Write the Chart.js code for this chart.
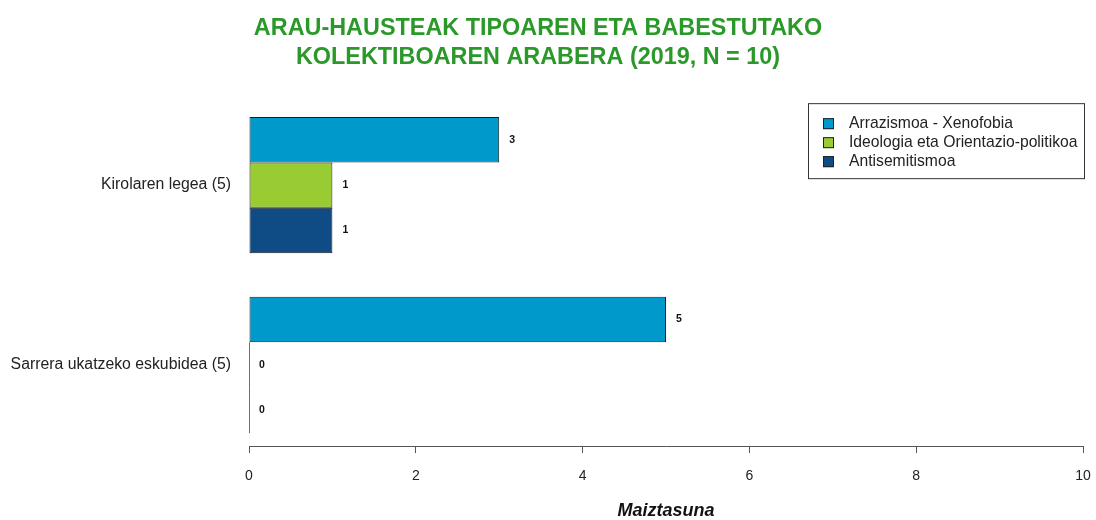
<!DOCTYPE html>
<html>
<head>
<meta charset="utf-8">
<title>Arau-hausteak tipoaren eta babestutako kolektiboaren arabera</title>
<script src="https://cdn.jsdelivr.net/npm/chart.js@4/dist/chart.umd.min.js"></script>
<style>
  html, body { margin: 0; padding: 0; background: #ffffff; }
  #wrap { width: 1096px; height: 520px; }
</style>
</head>
<body>
<div id="wrap"><canvas id="chart" width="1096" height="520"></canvas></div>
<script>
// Categories (top to bottom) and one value list per offence type
const categories = ['Kirolaren legea (5)', 'Sarrera ukatzeko eskubidea (5)'];
const seriesNames = ['Arrazismoa - Xenofobia', 'Ideologia eta Orientazio-politikoa', 'Antisemitismoa'];
const arrazismoa = [3, 5];
const ideologia = [1, 0];
const antisemitismoa = [1, 0];
const xTicks = [0, 2, 4, 6, 8, 10];

const titleLines = ['ARAU-HAUSTEAK TIPOAREN ETA BABESTUTAKO', 'KOLEKTIBOAREN ARABERA (2019, N = 10)'];
const xTitle = 'Maiztasuna';

const colors = ['#0099CC', '#99CC33', '#0F4C85'];
const FONT = "'Liberation Sans', Arial, Helvetica, sans-serif";

function toPoints(values) {
  return values.map((v, i) => ({ x: v, y: i }));
}

const seriesValues = [arrazismoa, ideologia, antisemitismoa];

// Value written just right of each bar; zero-length bars get a thin left edge
const barLabels = {
  id: 'barLabels',
  afterDatasetsDraw(chart) {
    const ctx = chart.ctx;
    ctx.save();
    chart.data.datasets.forEach((ds, di) => {
      const meta = chart.getDatasetMeta(di);
      meta.data.forEach((el, i) => {
        const v = ds.data[i].x;
        const { x, y, base, height } = el.getProps(['x', 'y', 'base', 'height'], true);
        if (v === 0) {
          ctx.strokeStyle = '#6f6f6f';
          ctx.lineWidth = 1;
          ctx.beginPath();
          ctx.moveTo(Math.round(base) + 0.5, y - height / 2);
          ctx.lineTo(Math.round(base) + 0.5, y + height / 2);
          ctx.stroke();
        }
        ctx.fillStyle = '#111111';
        ctx.font = 'bold 10.5px ' + FONT;
        ctx.textAlign = 'left';
        ctx.textBaseline = 'middle';
        ctx.fillText(String(v), x + 10, y);
      });
    });
    ctx.restore();
  }
};

// Boxed legend in the upper right of the plot
const boxedLegend = {
  id: 'boxedLegend',
  afterDraw(chart) {
    const ctx = chart.ctx;
    const area = chart.chartArea;
    const w = 277, h = 76;
    const left = area.right + 2 - w;
    const top = area.top + 8;
    ctx.save();
    ctx.fillStyle = '#ffffff';
    ctx.fillRect(left, top, w, h);
    ctx.strokeStyle = '#333333';
    ctx.lineWidth = 1;
    ctx.strokeRect(left + 0.5, top + 0.5, w - 1, h - 1);
    chart.data.datasets.forEach((ds, i) => {
      const cy = top + 20 + i * 19;
      ctx.fillStyle = ds.backgroundColor;
      ctx.fillRect(left + 15, cy - 5, 11, 11);
      ctx.strokeStyle = '#222222';
      ctx.strokeRect(left + 15.5, cy - 4.5, 10, 10);
      ctx.fillStyle = '#222222';
      ctx.font = '15.7px ' + FONT;
      ctx.textAlign = 'left';
      ctx.textBaseline = 'middle';
      ctx.fillText(ds.label, left + 41, cy + 1);
    });
    ctx.restore();
  }
};

// The heading is centred over the page rather than over the padded box
const titleCentre = {
  id: 'titleCentre',
  afterLayout(chart) {
    if (chart.titleBlock) {
      chart.titleBlock.right = chart.width - 20;
    }
  }
};

Chart.defaults.font.family = FONT;
Chart.defaults.color = '#222222';

new Chart(document.getElementById('chart'), {
  type: 'bar',
  data: {
    datasets: seriesNames.map((name, i) => ({
      label: name,
      data: toPoints(seriesValues[i]),
      backgroundColor: colors[i],
      borderColor: '#1c1c1c',
      borderWidth: 1,
      borderSkipped: false,
      barPercentage: 1,
      categoryPercentage: 0.758
    }))
  },
  options: {
    indexAxis: 'y',
    responsive: false,
    animation: false,
    layout: { padding: { left: 0, right: 13, top: 0, bottom: 0 } },
    plugins: {
      legend: { display: false },
      tooltip: { enabled: false },
      title: {
        display: true,
        text: titleLines,
        color: '#2A992A',
        font: { size: 23.4, weight: 'bold', lineHeight: 1.2 },
        padding: { top: 15, bottom: 24 }
      }
    },
    scales: {
      x: {
        type: 'linear',
        position: 'bottom',
        min: 0,
        max: 10,
        afterBuildTicks(scale) { scale.ticks = xTicks.map(v => ({ value: v })); },
        afterFit(scale) {
          scale.height = 74;
          scale.paddingLeft = 0;
          scale.paddingRight = 0;
        },
        ticks: { font: { size: 14 }, color: '#222222', padding: 15 },
        grid: { drawOnChartArea: false, drawTicks: true, tickLength: 7, color: '#555555', lineWidth: 1 },
        border: { display: true, color: '#555555', width: 1 },
        title: {
          display: true,
          text: xTitle,
          color: '#111111',
          font: { size: 18, weight: 'bold', style: 'italic', lineHeight: 1 },
          padding: { top: 0, bottom: 0 }
        }
      },
      y: {
        type: 'linear',
        reverse: true,
        offset: false,
        min: -0.5,
        max: 1.45,
        afterBuildTicks(scale) { scale.ticks = categories.map((c, i) => ({ value: i })); },
        afterFit(scale) { scale.width = 249; },
        ticks: {
          font: { size: 15.8 },
          color: '#222222',
          padding: 18,
          callback: (v) => categories[v]
        },
        grid: { display: false, drawTicks: false },
        border: { display: false }
      }
    }
  },
  plugins: [barLabels, boxedLegend, titleCentre]
});
</script>
</body>
</html>
